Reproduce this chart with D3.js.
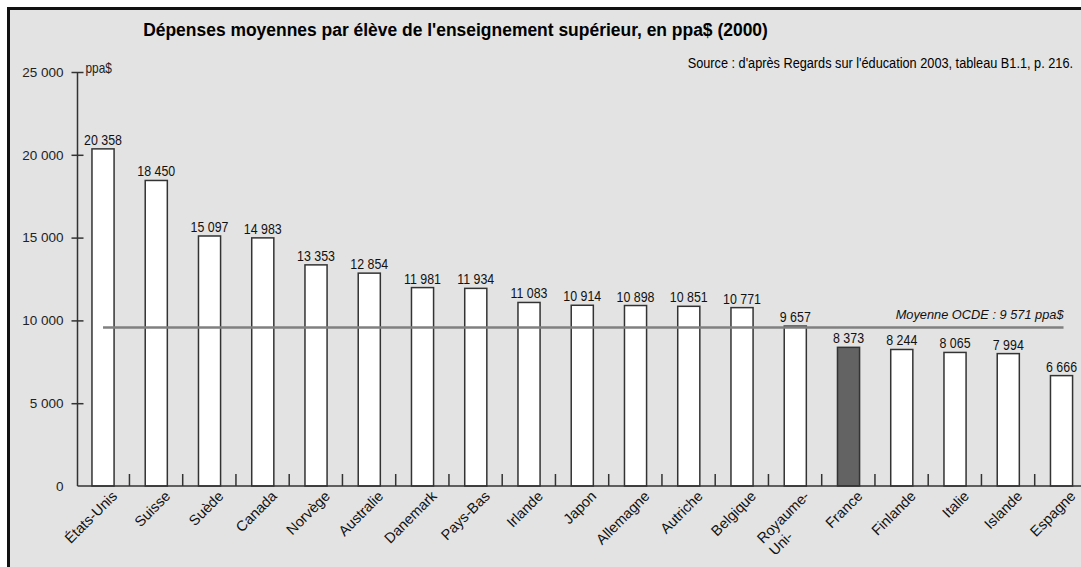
<!DOCTYPE html>
<html>
<head>
<meta charset="utf-8">
<script src="https://cdn.jsdelivr.net/npm/d3@7"></script>
<style>
  html, body { margin: 0; padding: 0; background: #ffffff; }
  svg { display: block; }
  text { font-family: "Liberation Sans", Arial, sans-serif; }
</style>
</head>
<body>
<svg id="chart" width="1081" height="567"></svg>
<script>
// Dépenses moyennes par élève, enseignement supérieur (ppa$, 2000)
const countries = ["États-Unis", "Suisse", "Suède", "Canada", "Norvège", "Australie", "Danemark",
  "Pays-Bas", "Irlande", "Japon", "Allemagne", "Autriche", "Belgique", "Royaume-Uni",
  "France", "Finlande", "Italie", "Islande", "Espagne"];
const spending = [20358, 18450, 15097, 14983, 13353, 12854, 11981, 11934, 11083, 10914,
  10898, 10851, 10771, 9657, 8373, 8244, 8065, 7994, 6666];
const highlighted = ["France"];
const oecdAverage = 9571;
const yTicks = [0, 5000, 10000, 15000, 20000, 25000];
const axisLines = { "Royaume-Uni": ["Royaume-", "Uni-"] };

const titleText = "Dépenses moyennes par élève de l'enseignement supérieur, en ppa$ (2000)";
const sourceText = "Source : d'après Regards sur l'éducation 2003, tableau B1.1, p. 216.";
const unitText = "ppa$";

const fr = d3.formatLocale({ decimal: ",", thousands: "\u00a0", grouping: [3], currency: ["", " $"] });
const fmt = fr.format(",d");

const W = 1081, H = 567;
const svg = d3.select("#chart");

// condensed look: squeeze text horizontally around its anchor point
function condensed(sel, px, py, sx) {
  return sel.attr("x", 0).attr("y", 0).attr("transform", `translate(${px},${py}) scale(${sx},1)`);
}
// squeeze a text so that it spans a given width
function fitWidth(sel, px, py, width) {
  const natural = sel.node().getComputedTextLength();
  return condensed(sel, px, py, Math.min(1, width / natural));
}

// panel background with a heavy frame on the top and left edges
svg.append("rect").attr("x", 8.5).attr("y", 8.5).attr("width", W + 10).attr("height", H + 10)
  .attr("fill", "#e3e3e3").attr("stroke", "#111").attr("stroke-width", 3);

const x = d3.scaleBand().domain(countries).range([76.4, 76.4 + 19 * 53.25])
  .paddingInner(0.585).paddingOuter(0.2925);
const y = d3.scaleLinear().domain([0, 25000]).range([486, 72]);
const axisX = 77.5;
const cx = d => x(d) + x.bandwidth() / 2;

// title and source
fitWidth(svg.append("text")
  .attr("text-anchor", "middle").attr("font-size", 19).attr("font-weight", "bold")
  .attr("fill", "#000").text(titleText), 455.5, 36, 625);
fitWidth(svg.append("text")
  .attr("text-anchor", "end").attr("font-size", 14.5).attr("fill", "#000")
  .text(sourceText), 1073, 68, 386);

// y axis
const yAxis = svg.append("g").attr("transform", `translate(${axisX},0)`)
  .call(d3.axisLeft(y).tickValues(yTicks).tickFormat(fmt).tickSize(6).tickPadding(8));
yAxis.select(".domain").attr("stroke", "#333").attr("stroke-width", 1.5).attr("d", `M0,${y(25000)}V${y(0)}`);
yAxis.selectAll(".tick line").attr("x1", -6).attr("x2", 6).attr("stroke", "#333").attr("stroke-width", 1.5);
yAxis.selectAll(".tick text").attr("font-size", 13.5).attr("fill", "#222").attr("font-family", null);
yAxis.selectAll(".tick").filter(d => d === 0).select("line").remove();

condensed(svg.append("text"), axisX + 8, y(25000) + 0.5, 0.85)
  .attr("font-size", 14).attr("fill", "#222").text(unitText);

// bars
svg.append("g").selectAll("rect").data(countries).join("rect")
  .attr("x", d => x(d)).attr("width", x.bandwidth())
  .attr("y", (d, i) => y(spending[i])).attr("height", (d, i) => y(0) - y(spending[i]))
  .attr("fill", d => highlighted.includes(d) ? "#636363" : "#ffffff")
  .attr("stroke", "#333").attr("stroke-width", 1.5);

// value labels
svg.append("g").selectAll("text").data(countries).join("text")
  .each(function (d, i) {
    condensed(d3.select(this), cx(d), y(spending[i]) - 4, 0.8);
  })
  .attr("text-anchor", "middle").attr("font-size", 15.5).attr("fill", "#111")
  .text((d, i) => fmt(spending[i]));

// baseline and separators between categories
svg.append("line").attr("x1", axisX).attr("x2", W).attr("y1", y(0)).attr("y2", y(0))
  .attr("stroke", "#333").attr("stroke-width", 1.5);
svg.append("g").selectAll("line").data(countries.slice(1)).join("line")
  .attr("x1", d => x(d) - x.step() * x.paddingInner() / 2 - 0.2)
  .attr("x2", d => x(d) - x.step() * x.paddingInner() / 2 - 0.2)
  .attr("y1", y(0)).attr("y2", y(0) - 12)
  .attr("stroke", "#333").attr("stroke-width", 1.5);

// OECD average
const first = countries[0], last = countries[countries.length - 1];
svg.append("line")
  .attr("x1", cx(first)).attr("x2", cx(last) + 2)
  .attr("y1", y(oecdAverage)).attr("y2", y(oecdAverage))
  .attr("stroke", "#808080").attr("stroke-width", 2.5);
fitWidth(svg.append("text")
  .attr("text-anchor", "end").attr("font-size", 13).attr("font-style", "italic").attr("fill", "#111")
  .text("Moyenne OCDE : " + fmt(oecdAverage) + " ppa$"), cx(last) + 2, y(oecdAverage) - 9, 168);

// rotated category labels
const labels = svg.append("g").selectAll("g").data(countries).join("g")
  .attr("transform", d => `translate(${cx(d) + 15},497) rotate(-45)`);
labels.each(function (d) {
  const g = d3.select(this);
  const lines = axisLines[d] || [d];
  const t = g.append("text").attr("font-size", 14.5).attr("fill", "#111");
  const head = t.append("tspan").attr("x", 0).attr("y", 0).text(lines[0]);
  const len = head.node().getComputedTextLength();
  head.attr("x", -len);
  lines.slice(1).forEach((ln, k) => {
    t.append("tspan").attr("x", -len).attr("y", 17 * (k + 1)).text(ln);
  });
});
</script>
</body>
</html>
